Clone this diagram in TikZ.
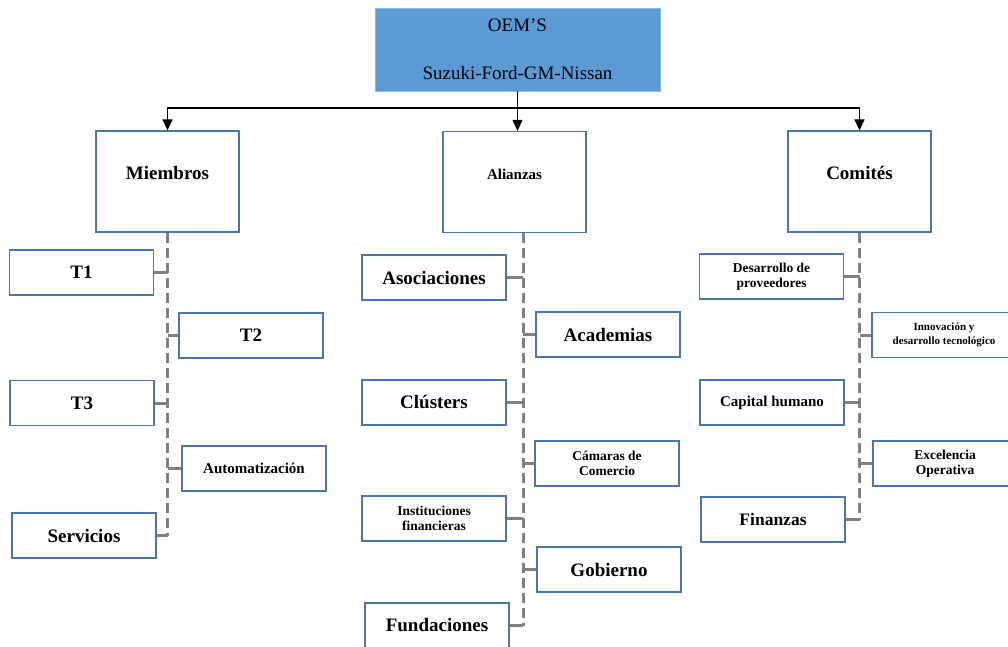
\documentclass[tikz,border=0pt]{standalone}
\usepackage{fontspec}
\setmainfont{Liberation Serif}
\usetikzlibrary{arrows.meta}
\definecolor{oemblue}{HTML}{5B9BD5}
\definecolor{boxblue}{HTML}{4A76A8}
\definecolor{trunkgray}{HTML}{808080}

\begin{document}
\begin{tikzpicture}[x=1pt,y=-1pt,
    onode/.style={fill=oemblue, draw=oemblue!70!white, minimum width=285pt, minimum height=83pt, align=center, font=\fontsize{19}{22}\selectfont},
    hnode/.style={draw=boxblue, line width=1.2pt, minimum width=143pt, minimum height=101pt, text height=13pt, text depth=18pt, font=\bfseries\fontsize{19}{22}\selectfont},
    cnode/.style={draw=boxblue, line width=1.2pt, minimum width=144pt, minimum height=45pt, align=center, font=\bfseries\fontsize{19}{22}\selectfont},
    small/.style={font=\bfseries\fontsize{13.5}{15.5}\selectfont},
    link/.style={draw=black, line width=1.1pt, -{Triangle[width=10pt,length=11pt]}},
    tick/.style={draw=trunkgray, line width=3pt}]
    \useasboundingbox (0,0) rectangle (1008,646);

    \node[onode] (o) at (517.5,49.5) {OEM’S\\[26pt]Suzuki-Ford-GM-Nissan};

    \node[hnode] (m) at (167.5,181.5) {Miembros};
    \node[hnode, font=\bfseries\fontsize{15}{18}\selectfont, text height=10pt, text depth=15pt] (a) at (514.5,182) {Alianzas};
    \node[hnode] (c) at (859.5,181.5) {Comités};

    \node[cnode] (m1) at (81.5,272.5) {T1};
    \node[cnode] (m2) at (251,335.5) {T2};
    \node[cnode] (m3) at (82,403) {T3};
    \node[cnode, font=\bfseries\fontsize{15}{18}\selectfont] (m4) at (254,468.5) {Automatización};
    \node[cnode] (m5) at (84,535.5) {Servicios};

    \node[cnode] (a1) at (434,277.5) {Asociaciones};
    \node[cnode] (a2) at (608,334.5) {Academias};
    \node[cnode] (a3) at (434,402.5) {Clústers};
    \node[cnode, small] (a4) at (607,463.5) {Cámaras de\\Comercio};
    \node[cnode, small] (a5) at (434,518.5) {Instituciones\\financieras};
    \node[cnode] (a6) at (609,569.5) {Gobierno};
    \node[cnode] (a7) at (437,625.5) {Fundaciones};

    \node[cnode, small] (c1) at (771.5,276.5) {Desarrollo de\\proveedores};
    \node[cnode, font=\bfseries\fontsize{11}{14}\selectfont] (c2) at (944,335) {Innovación y\\desarrollo tecnológico};
    \node[cnode, font=\bfseries\fontsize{15}{18}\selectfont] (c3) at (772,402.5) {Capital humano};
    \node[cnode, small] (c4) at (945,463.5) {Excelencia\\Operativa};
    \node[cnode, font=\bfseries\fontsize{17.5}{20}\selectfont] (c5) at (773,519.5) {Finanzas};

    \coordinate (bus) at (517.5,108);
    \coordinate (at) at (523,233);

    \draw[link] (o.south) -- (o.south |- a.north);
    \draw[link] (bus) -| (m.north);
    \draw[link] (bus) -| (c.north);

   \begin{scope}[draw=trunkgray, line width=3pt, dash pattern=on 10pt off 5pt]
    \draw (m.south) -- (m.south |- m5.east);
    \draw (at) -- (at |- a7.east);
    \draw (c.south) -- (c.south |- c5.west);
   \end{scope}

    \draw[tick] (m1.east) -- (m1.east -| m.south);
    \draw[tick] (m2.west) -- (m2.west -| m.south);
    \draw[tick] (m3.east) -- (m3.east -| m.south);
    \draw[tick] (m4.west) -- (m4.west -| m.south);
    \draw[tick] (m5.east) -- (m5.east -| m.south);

    \draw[tick] (a1.east) -- (a1.east -| at);
    \draw[tick] (a2.west) -- (a2.west -| at);
    \draw[tick] (a3.east) -- (a3.east -| at);
    \draw[tick] (a4.west) -- (a4.west -| at);
    \draw[tick] (a5.east) -- (a5.east -| at);
    \draw[tick] (a6.west) -- (a6.west -| at);
    \draw[tick] (a7.east) -- (a7.east -| at);

    \draw[tick] (c1.east) -- (c1.east -| c.south);
    \draw[tick] (c2.west) -- (c2.west -| c.south);
    \draw[tick] (c3.east) -- (c3.east -| c.south);
    \draw[tick] (c4.west) -- (c4.west -| c.south);
    \draw[tick] (c5.east) -- (c5.east -| c.south);
\end{tikzpicture}
\end{document}
